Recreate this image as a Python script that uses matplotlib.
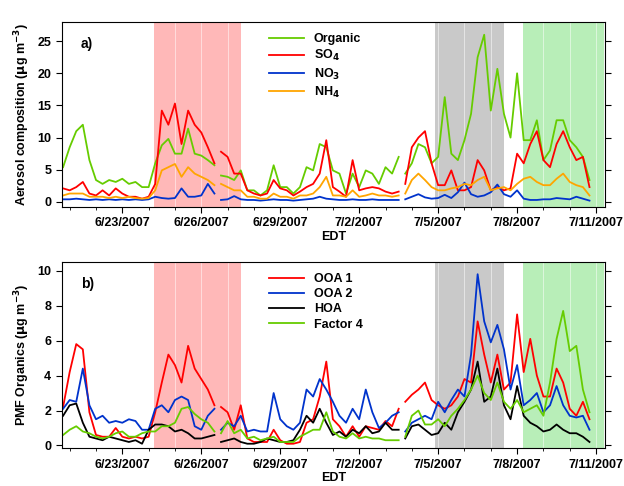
import numpy as np
import matplotlib.pyplot as plt

plt.rcParams['font.family'] = ['Liberation Sans', 'DejaVu Sans']
plt.rcParams['font.weight'] = 'bold'
plt.rcParams['mathtext.default'] = 'bf'

# time in June day numbers (32 = July 2)
t1 = np.arange(20.75, 26.51, 0.25)
t2 = np.arange(26.75, 33.51, 0.25)
t3 = np.arange(33.75, 40.76, 0.25)
segments = [t1, t2, t3]

tick_days = [23, 26, 29, 32, 35, 38, 41]
tick_labels = ["6/23/2007", "6/26/2007", "6/29/2007", "7/2/2007",
               "7/5/2007", "7/8/2007", "7/11/2007"]

# panel a: aerosol composition
org = [[5.4, 8.5, 11, 12, 6.5, 3.4, 2.8, 3.4, 3.1, 3.6, 2.8, 3.1, 2.3, 2.3, 6, 8.8, 9.8, 7.5, 7.5, 11.4, 7.5, 7.2, 6.5, 5.7],
       [4.1, 3.9, 3.4, 4.9, 1.8, 1.8, 1.0, 1.8, 5.7, 2.3, 2.3, 1.3, 2.3, 5.4, 4.9, 9, 8.5, 4.9, 4.4, 1.3, 4.4, 2.3, 4.9, 4.4, 2.8, 5.4, 4.4, 7],
       [4.4, 6, 9, 8.5, 6, 7, 16.3, 7.5, 6.5, 9.6, 13.7, 22.5, 26, 14.2, 20.7, 13.7, 10, 20, 9.6, 9.6, 12.7, 6.5, 8, 12.7, 12.7, 9.6, 8.5, 7, 3.4]]
so4 = [[2.1, 1.8, 2.3, 3.1, 1.3, 1.0, 1.8, 1.0, 2.1, 1.3, 0.8, 0.8, 0.5, 0.8, 2.8, 14.2, 12, 15.3, 9, 14.2, 12, 10.8, 8.5, 6],
       [7.8, 7, 4.4, 4.4, 1.8, 1.3, 1.0, 1.3, 3.4, 2.1, 1.8, 1.0, 1.6, 2.3, 2.8, 4.4, 9.6, 2.3, 1.6, 0.8, 6.5, 1.8, 2.1, 2.3, 2.1, 1.6, 1.3, 1.6],
       [2.8, 8.5, 10, 11, 6, 2.6, 2.6, 4.9, 1.8, 1.8, 2.3, 6.5, 4.9, 1.8, 2.3, 1.8, 2.1, 7.5, 6, 9, 11, 6.5, 5.4, 9, 11, 8.5, 6.5, 7, 2.3]]
no3 = [[0.4, 0.4, 0.5, 0.4, 0.3, 0.4, 0.3, 0.4, 0.3, 0.4, 0.3, 0.4, 0.3, 0.4, 0.8, 0.6, 0.5, 0.6, 2.1, 0.8, 0.8, 1.0, 2.8, 1.3],
       [0.3, 0.4, 0.9, 0.4, 0.3, 0.3, 0.2, 0.3, 0.4, 0.3, 0.3, 0.2, 0.3, 0.4, 0.5, 0.8, 0.5, 0.4, 0.3, 0.3, 0.4, 0.3, 0.3, 0.4, 0.3, 0.3, 0.3, 0.3],
       [0.4, 0.8, 1.2, 0.7, 0.5, 0.6, 1.1, 0.6, 1.5, 3.0, 1.2, 0.8, 1.0, 1.5, 2.7, 1.2, 0.8, 1.8, 0.5, 0.3, 0.3, 0.4, 0.4, 0.6, 0.5, 0.4, 0.8, 0.5, 0.2]]
nh4 = [[1.0, 1.3, 1.3, 1.3, 0.8, 0.8, 0.8, 0.6, 0.8, 0.6, 0.8, 0.6, 0.5, 0.6, 1.8, 4.9, 5.4, 5.9, 3.9, 5.4, 4.4, 3.9, 3.4, 2.6],
       [2.8, 2.3, 1.8, 1.8, 0.8, 0.8, 0.5, 0.5, 1.3, 0.8, 0.8, 0.5, 1.0, 1.0, 1.3, 2.3, 3.9, 1.0, 1.0, 0.8, 1.8, 0.8, 1.0, 1.3, 1.0, 1.0, 0.8, 1.0],
       [1.3, 3.4, 4.4, 3.4, 2.3, 1.8, 1.8, 2.1, 2.3, 2.8, 2.6, 3.4, 3.9, 1.8, 2.1, 2.3, 1.8, 2.8, 3.6, 3.9, 3.1, 2.6, 2.6, 3.6, 4.4, 3.1, 2.6, 2.3, 1.0]]

# panel b: PMF factors
ooa1 = [[2.2, 4.2, 5.8, 5.5, 1.9, 0.6, 0.5, 0.5, 1.0, 0.5, 0.4, 0.5, 0.4, 0.5, 1.9, 3.6, 5.2, 4.6, 3.6, 5.7, 4.4, 3.8, 3.2, 2.3],
        [2.2, 1.9, 0.9, 2.3, 0.4, 0.2, 0.2, 0.2, 0.9, 0.3, 0.1, 0.1, 0.2, 1.3, 1.5, 2.8, 4.8, 1.5, 1.1, 0.5, 1.1, 0.5, 1.1, 1.0, 0.9, 1.4, 1.1, 2.1],
        [2.5, 2.9, 3.2, 3.6, 2.6, 2.3, 2.1, 2.3, 2.8, 3.8, 3.6, 7.1, 5.2, 3.6, 5.2, 3.2, 3.6, 7.5, 4.2, 6.1, 4.0, 2.8, 2.8, 4.4, 3.6, 2.1, 1.7, 2.5, 1.5]]
ooa2 = [[2.1, 2.6, 2.5, 4.4, 2.3, 1.5, 1.7, 1.3, 1.4, 1.3, 1.5, 1.4, 0.9, 0.9, 2.1, 2.3, 1.9, 2.6, 2.8, 2.6, 1.1, 0.9, 1.7, 2.1],
        [0.9, 1.3, 1.1, 1.7, 0.8, 0.9, 0.8, 0.8, 3.0, 1.5, 1.1, 0.9, 1.3, 3.2, 2.8, 3.8, 3.2, 2.5, 1.7, 1.3, 2.1, 1.5, 3.2, 1.9, 1.0, 1.3, 1.7, 1.9],
        [0.8, 1.3, 1.5, 1.7, 1.5, 2.5, 1.9, 2.6, 3.2, 2.8, 5.2, 9.8, 7.1, 5.9, 6.9, 5.5, 3.2, 4.6, 2.3, 2.6, 3.0, 1.9, 2.3, 3.4, 2.3, 1.7, 1.6, 1.7, 0.9]]
hoa = [[1.7, 2.3, 2.4, 1.3, 0.5, 0.4, 0.3, 0.5, 0.4, 0.3, 0.2, 0.3, 0.1, 0.9, 1.2, 1.2, 1.1, 0.8, 0.9, 0.7, 0.4, 0.4, 0.5, 0.6],
       [0.2, 0.3, 0.4, 0.2, 0.1, 0.1, 0.2, 0.4, 0.3, 0.2, 0.2, 0.3, 0.9, 1.7, 1.3, 2.1, 1.3, 0.6, 0.8, 0.5, 0.9, 0.7, 1.1, 0.7, 0.8, 1.3, 0.9, 0.9],
       [0.4, 1.1, 1.2, 0.9, 0.6, 0.7, 1.3, 0.9, 1.9, 2.5, 3.2, 4.8, 2.5, 2.8, 4.4, 2.3, 1.5, 3.4, 1.7, 1.3, 1.1, 0.8, 0.9, 1.2, 0.9, 0.7, 0.7, 0.5, 0.2]]
fac4 = [[0.6, 0.9, 1.1, 0.8, 0.7, 0.5, 0.4, 0.5, 0.7, 0.8, 0.5, 0.5, 0.7, 0.8, 0.8, 1.1, 1.1, 1.3, 2.1, 2.2, 1.8, 1.5, 1.3, 0.8],
        [0.7, 1.4, 0.7, 0.9, 0.4, 0.5, 0.3, 0.4, 0.5, 0.2, 0.2, 0.2, 0.5, 0.7, 0.9, 0.9, 1.9, 0.8, 0.5, 0.4, 0.7, 0.4, 0.5, 0.4, 0.4, 0.3, 0.3, 0.3],
        [0.5, 1.7, 2.0, 1.2, 1.2, 1.5, 1.1, 1.7, 2.1, 2.6, 3.2, 4.0, 3.0, 2.6, 3.6, 2.5, 2.1, 2.6, 1.9, 2.1, 2.3, 1.7, 3.6, 6.1, 7.7, 5.4, 5.7, 3.2, 1.9]]

spans = [(24.22, 27.51, '#ffb8b8'), (34.88, 37.52, '#c9c9c9'), (38.24, 41.29, '#b8eeb8')]

fig = plt.figure(figsize=(6.24, 4.86), dpi=100)
ax_a = fig.add_axes([0.099, 0.574, 0.871, 0.381])
ax_b = fig.add_axes([0.099, 0.078, 0.871, 0.383])


def draw(ax, series, ylim, ylabel, tag, yticks):
    for x0, x1, c in spans:
        ax.axvspan(x0, x1, color=c, lw=0, zorder=0)
        for d in np.arange(np.ceil(x0), x1):
            ax.axvline(d, color='white', lw=0.6, alpha=0.6, zorder=0.5)
    for data, colour, name in series:
        for i, (t, y) in enumerate(zip(segments, data)):
            ax.plot(t, y, color=colour, lw=1.3, label=name if i == 0 else None)
    ax.set_xlim(20.7, 41.35)
    ax.set_ylim(*ylim)
    ax.set_yticks(yticks)
    ax.set_xticks(tick_days)
    ax.set_xticklabels(tick_labels)
    ax.set_xticks(np.arange(21, 42), minor=True)
    ax.tick_params(direction='out', labelsize=9, right=True, length=4)
    ax.tick_params(which='minor', direction='out', length=2.5)
    ax.set_xlabel("EDT", fontsize=9, fontweight='bold', labelpad=1)
    ax.set_ylabel(ylabel, fontsize=9, fontweight='bold')
    ax.text(0.035, 0.86, tag, transform=ax.transAxes, fontsize=10, fontweight='bold')
    ax.legend(loc='upper left', bbox_to_anchor=(0.36, 1.0), frameon=False,
              fontsize=9, handlelength=2.8, labelspacing=0.25)


draw(ax_a, [(org, '#66cc00', 'Organic'), (so4, '#ff0000', r'SO$_4$'),
            (no3, '#0033cc', r'NO$_3$'), (nh4, '#ffa500', r'NH$_4$')],
     (-0.8, 28), r'Aerosol composition ($\mu$g m$^{-3}$)', 'a)', [0, 5, 10, 15, 20, 25])
draw(ax_b, [(ooa1, '#ff0000', 'OOA 1'), (ooa2, '#0033cc', 'OOA 2'),
            (hoa, '#000000', 'HOA'), (fac4, '#66cc00', 'Factor 4')],
     (-0.15, 10.5), r'PMF Organics ($\mu$g m$^{-3}$)', 'b)', [0, 2, 4, 6, 8, 10])

fig.savefig('out.png', dpi=100)
